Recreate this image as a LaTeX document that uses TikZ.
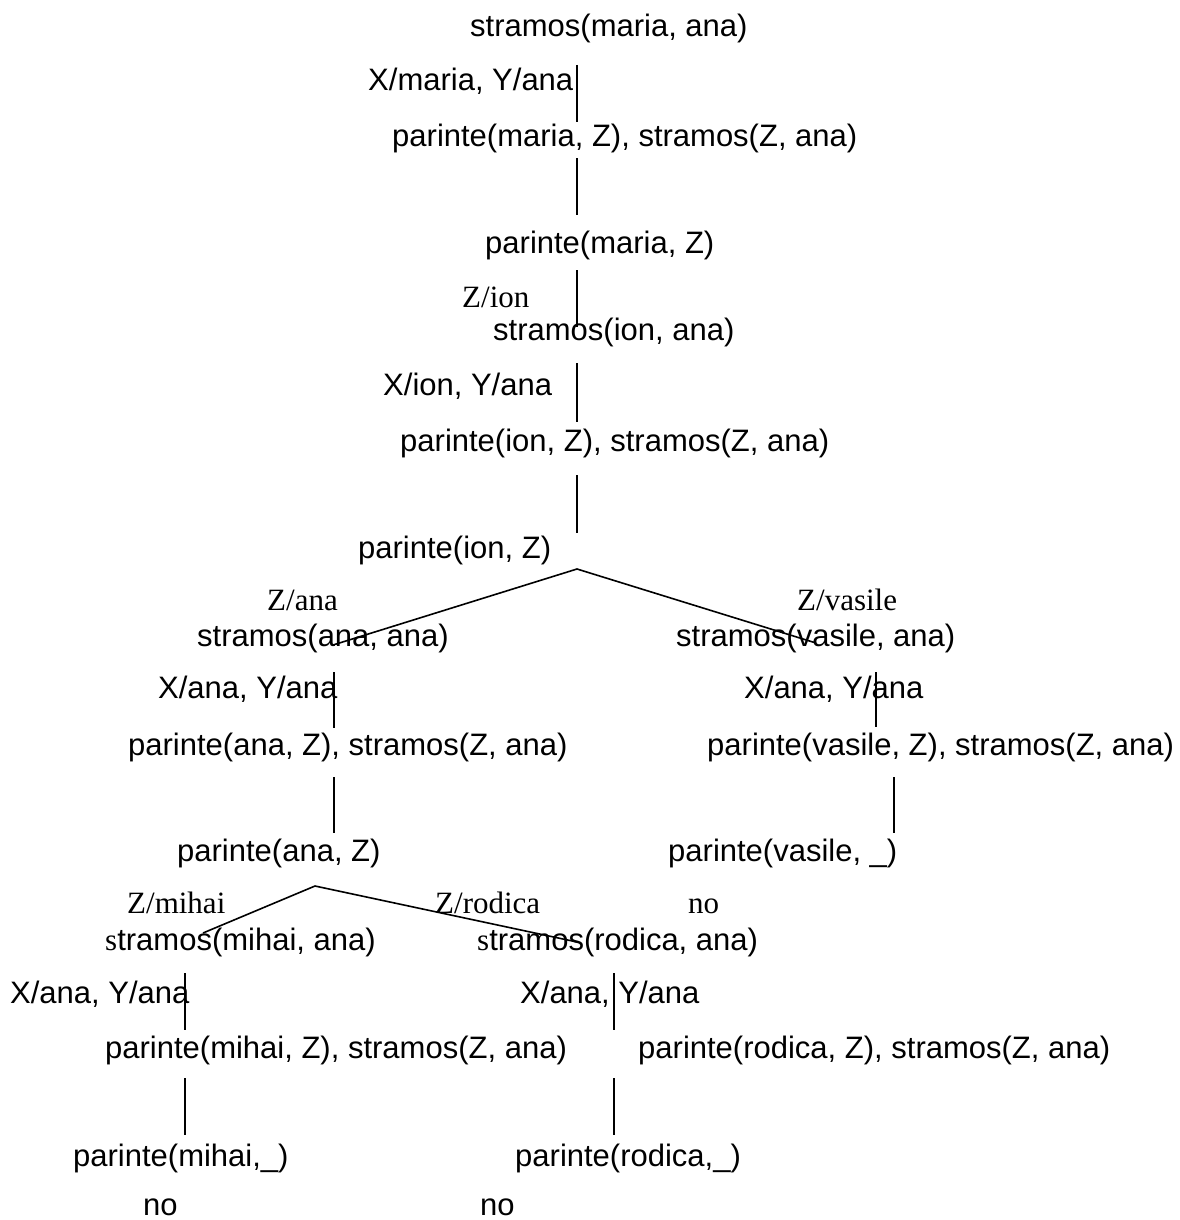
\documentclass[tikz,border=0pt]{standalone}
\usepackage{fontspec}
\setmainfont{Liberation Serif}
\newfontfamily\arialf{Liberation Sans}
\newfontfamily\timesf{Liberation Serif}
\begin{document}
\begin{tikzpicture}[x=1pt,y=-1pt,
  goal/.style={anchor=west,inner sep=0pt,yshift=-7.5pt,text height=0.73em,text depth=0.21em,font=\arialf\fontsize{31}{37}\selectfont},
  subst/.style={anchor=west,inner sep=0pt,yshift=-7.5pt,text height=0.73em,text depth=0.21em,font=\arialf\fontsize{31}{37}\selectfont},
  slabel/.style={anchor=base west,inner sep=0pt,font=\timesf\fontsize{31}{37}\selectfont},
  fail/.style={anchor=base west,inner sep=0pt,font=\arialf\fontsize{31}{37}\selectfont},
  edge/.style={line width=1.6pt,black}]
\useasboundingbox (0,0) rectangle (1179,1220);
% main chain
\node[goal] (g1) at (470,26) {stramos(maria, ana)};
\node[subst] (s1) at (368,80) {X/maria, Y/ana};
\node[goal] (g2) at (392,136) {parinte(maria, Z), stramos(Z, ana)};
\node[goal] (g3) at (485,243) {parinte(maria, Z)};
\node[slabel] (s2) at (462,307) {Z/ion};
\node[goal] (g4) at (493,330) {stramos(ion, ana)};
\node[subst] (s3) at (383,385) {X/ion, Y/ana};
\node[goal] (g5) at (400,441) {parinte(ion, Z), stramos(Z, ana)};
\node[goal] (g6) at (358,548) {parinte(ion, Z)};
% left branch ana
\node[slabel] (s4) at (267,610) {Z/ana};
\node[goal] (g7) at (197,636) {stramos(ana, ana)};
\node[subst] (s5) at (158,688) {X/ana, Y/ana};
\node[goal] (g8) at (128,745) {parinte(ana, Z), stramos(Z, ana)};
\node[goal] (g9) at (177,851) {parinte(ana, Z)};
% right branch vasile
\node[slabel] (s6) at (797,610) {Z/vasile};
\node[goal] (g10) at (676,636) {stramos(vasile, ana)};
\node[subst] (s7) at (744,688) {X/ana, Y/ana};
\node[goal] (g11) at (707,745) {parinte(vasile, Z), stramos(Z, ana)};
\node[goal] (g12) at (668,851) {parinte(vasile, \_)};
\node[slabel] (n1) at (688,913) {no};
% mihai branch
\node[slabel] (s8) at (127,913) {Z/mihai};
\node[goal] (g13) at (105,940) {{\timesf s}tramos(mihai, ana)};
\node[subst] (s9) at (10,993) {X/ana, Y/ana};
\node[goal] (g14) at (105,1048) {parinte(mihai, Z), stramos(Z, ana)};
\node[goal] (g15) at (73,1156) {parinte(mihai,\_)};
\node[fail] (n2) at (143,1215) {no};
% rodica branch
\node[slabel] (s10) at (435,913) {Z/rodica};
\node[goal] (g16) at (477,940) {{\timesf s}tramos(rodica, ana)};
\node[subst] (s11) at (520,993) {X/ana, Y/ana};
\node[goal] (g17) at (638,1048) {parinte(rodica, Z), stramos(Z, ana)};
\node[goal] (g18) at (515,1156) {parinte(rodica,\_)};
\node[fail] (n3) at (480,1215) {no};
% connector end points
\coordinate (a1) at (577,65);   \coordinate (b1) at (577,122);
\coordinate (a2) at (577,158);  \coordinate (b2) at (577,215);
\coordinate (a3) at (577,270);  \coordinate (b3) at (577,327);
\coordinate (a4) at (577,363);  \coordinate (b4) at (577,422);
\coordinate (a5) at (577,475);  \coordinate (b5) at (577,533);
\coordinate (apex1) at (577,569);
\coordinate (endL1) at (333,645);
\coordinate (endR1) at (816,643);
\coordinate (a6) at (334,672);  \coordinate (b6) at (334,728);
\coordinate (a7) at (334,777);  \coordinate (b7) at (334,833);
\coordinate (a8) at (876,672);  \coordinate (b8) at (876,727);
\coordinate (a9) at (894,777);  \coordinate (b9) at (894,833);
\coordinate (apex2) at (315,886);
\coordinate (endL2) at (203,933);
\coordinate (endR2) at (577,942);
\coordinate (a10) at (185,973); \coordinate (b10) at (185,1030);
\coordinate (a11) at (185,1078);\coordinate (b11) at (185,1135);
\coordinate (a12) at (614,973); \coordinate (b12) at (614,1030);
\coordinate (a13) at (614,1078);\coordinate (b13) at (614,1135);
% connectors
\draw[edge] (a1) -- (b1);
\draw[edge] (a2) -- (b2);
\draw[edge] (a3) -- (b3);
\draw[edge] (a4) -- (b4);
\draw[edge] (a5) -- (b5);
\draw[edge] (endL1) -- (apex1) -- (endR1);
\draw[edge] (a6) -- (b6);
\draw[edge] (a7) -- (b7);
\draw[edge] (a8) -- (b8);
\draw[edge] (a9) -- (b9);
\draw[edge] (endL2) -- (apex2) -- (endR2);
\draw[edge] (a10) -- (b10);
\draw[edge] (a11) -- (b11);
\draw[edge] (a12) -- (b12);
\draw[edge] (a13) -- (b13);
\end{tikzpicture}
\end{document}
